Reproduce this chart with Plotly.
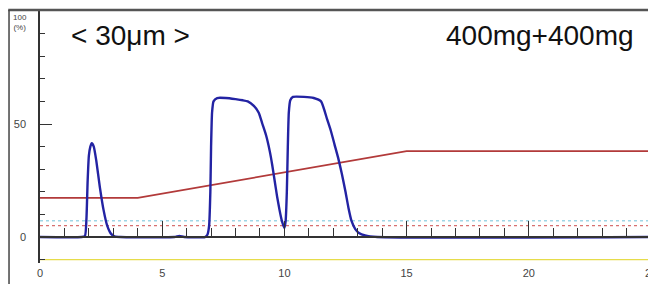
import plotly.graph_objects as go

# ---- data ----
time_min = [0, 1.7, 1.84, 1.9, 1.95, 2.0, 2.06, 2.12, 2.2, 2.3, 2.45, 2.6, 2.75, 2.9, 3.05, 3.3,
            5.5, 5.7, 5.9, 6.75, 6.85, 6.92, 6.97, 7.0, 7.04, 7.1, 7.25, 7.6, 8.0, 8.3, 8.5,
            8.75, 8.95, 9.1, 9.25, 9.4, 9.5, 9.6, 9.7, 9.8, 9.9, 10.0, 10.05, 10.1, 10.14,
            10.18, 10.24, 10.35, 10.8, 11.2, 11.5, 11.75, 11.9, 12.05, 12.2, 12.35, 12.5,
            12.62, 12.75, 12.9, 13.05, 13.3, 13.8, 25]
signal_pct = [0, 0, 0.5, 8, 25, 36, 40, 41.5, 40, 34, 22, 12, 5, 1.5, 0.3, 0,
              0, 0.5, 0, 0, 1, 5, 20, 40, 55, 60, 61.5, 61.5, 61, 60.5, 60,
              58, 55, 50, 45, 38, 32, 25, 18, 12, 7, 4, 7, 20, 40,
              55, 60.5, 62, 62, 61.5, 60, 52, 47, 41, 35, 28, 20,
              13, 7, 3.5, 1.8, 0.7, 0, 0]

gradient_time = [0, 4, 15, 25]
gradient_pct = [17.3, 17.3, 38, 38]

ref_time = [0, 25]
cyan_dotted = [7.2, 7.2]
red_dotted = [5.0, 5.0]
yellow_line = [-10, -10]

x_ticks = [0, 5, 10, 15, 20, 25]
y_ticks = [0, 50]

label_left = "< 30μm >"
label_right = "400mg+400mg"

FONT = "Liberation Sans, Arial, sans-serif"

fig = go.Figure()

fig.add_trace(go.Scatter(x=ref_time, y=yellow_line, mode="lines", xaxis="x2",
                         line=dict(color="#e6dc4a", width=1.2), hoverinfo="skip"))
fig.add_trace(go.Scatter(x=ref_time, y=cyan_dotted, mode="lines",
                         line=dict(color="#9fd6e6", width=1.3, dash="dot"), hoverinfo="skip"))
fig.add_trace(go.Scatter(x=ref_time, y=red_dotted, mode="lines",
                         line=dict(color="#d77070", width=1.3, dash="dot"), hoverinfo="skip"))
fig.add_trace(go.Scatter(x=gradient_time, y=gradient_pct, mode="lines",
                         line=dict(color="#b23a3a", width=1.6), hoverinfo="skip"))
fig.add_trace(go.Scatter(x=time_min, y=signal_pct, mode="lines",
                         line=dict(color="#2323a3", width=2.4, shape="spline", smoothing=0.5),
                         hoverinfo="skip"))

yr = [-11.5, 100]
pos0 = (0 - yr[0]) / (yr[1] - yr[0])

# page body has an 8px default margin; figure is sized/offset to compensate
fig.update_layout(
    width=648, height=276,
    margin=dict(l=32, r=5, t=3, b=21, autoexpand=False),
    paper_bgcolor="white", plot_bgcolor="white",
    showlegend=False,
    font=dict(family=FONT, color="#444"),
    xaxis=dict(range=[0, 25], showgrid=False, zeroline=False, showline=False, automargin=False,
               tickmode="array", tickvals=x_ticks, ticks="", ticklabeloverflow="allow",
               tickfont=dict(size=11, color="#444"), ticklabelstandoff=2),
    xaxis2=dict(range=[0, 25], overlaying="x", anchor="free", position=pos0, side="bottom",
                automargin=False,
                showgrid=False, zeroline=False, showline=True, linecolor="#333", linewidth=1.5,
                tickmode="array", tickvals=x_ticks, ticks="inside", ticklen=15, tickwidth=1.3,
                tickcolor="#333", showticklabels=False,
                minor=dict(tickmode="linear", tick0=0, dtick=1, ticks="inside", ticklen=8,
                           tickwidth=1.2, tickcolor="#333")),
    yaxis=dict(range=yr, showgrid=False, zeroline=False, showline=True, linecolor="#333",
               automargin=False,
               linewidth=1.5, tickmode="array", tickvals=y_ticks, ticks="inside", ticklen=12,
               tickwidth=1.2, tickcolor="#333", tickfont=dict(size=11, color="#444"),
               ticklabelstandoff=10,
               minor=dict(tickmode="linear", tick0=0, dtick=10, ticks="inside", ticklen=5,
                          tickwidth=1.2, tickcolor="#333")),
)

# frame
fig.add_shape(type="line", xref="paper", yref="paper", x0=-0.052, x1=1.01, y0=1.004, y1=1.004,
              line=dict(color="#555", width=2.5))
fig.add_shape(type="line", xref="paper", yref="paper", x0=-0.0507, x1=-0.0507, y0=1.004, y1=-0.09,
              line=dict(color="#444", width=1.5))
fig.add_shape(type="line", xref="paper", yref="paper", x0=1.0065, x1=1.0065, y0=1.004, y1=-0.09,
              line=dict(color="#cccccc", width=1))

fig.add_annotation(xref="paper", yref="paper", x=-0.033, y=0.998, text="100<br>(%)", showarrow=False,
                   font=dict(size=8, color="#444"), xanchor="center", yanchor="top",
                   borderpad=0)
fig.add_annotation(xref="x", yref="y", x=3.72, y=89, text=label_left, showarrow=False,
                   font=dict(size=28, color="#111"), xanchor="center", yanchor="middle")
fig.add_annotation(xref="x", yref="y", x=20.45, y=89, text=label_right, showarrow=False,
                   font=dict(size=28, color="#111"), xanchor="center", yanchor="middle")

fig.write_html("out.html")
